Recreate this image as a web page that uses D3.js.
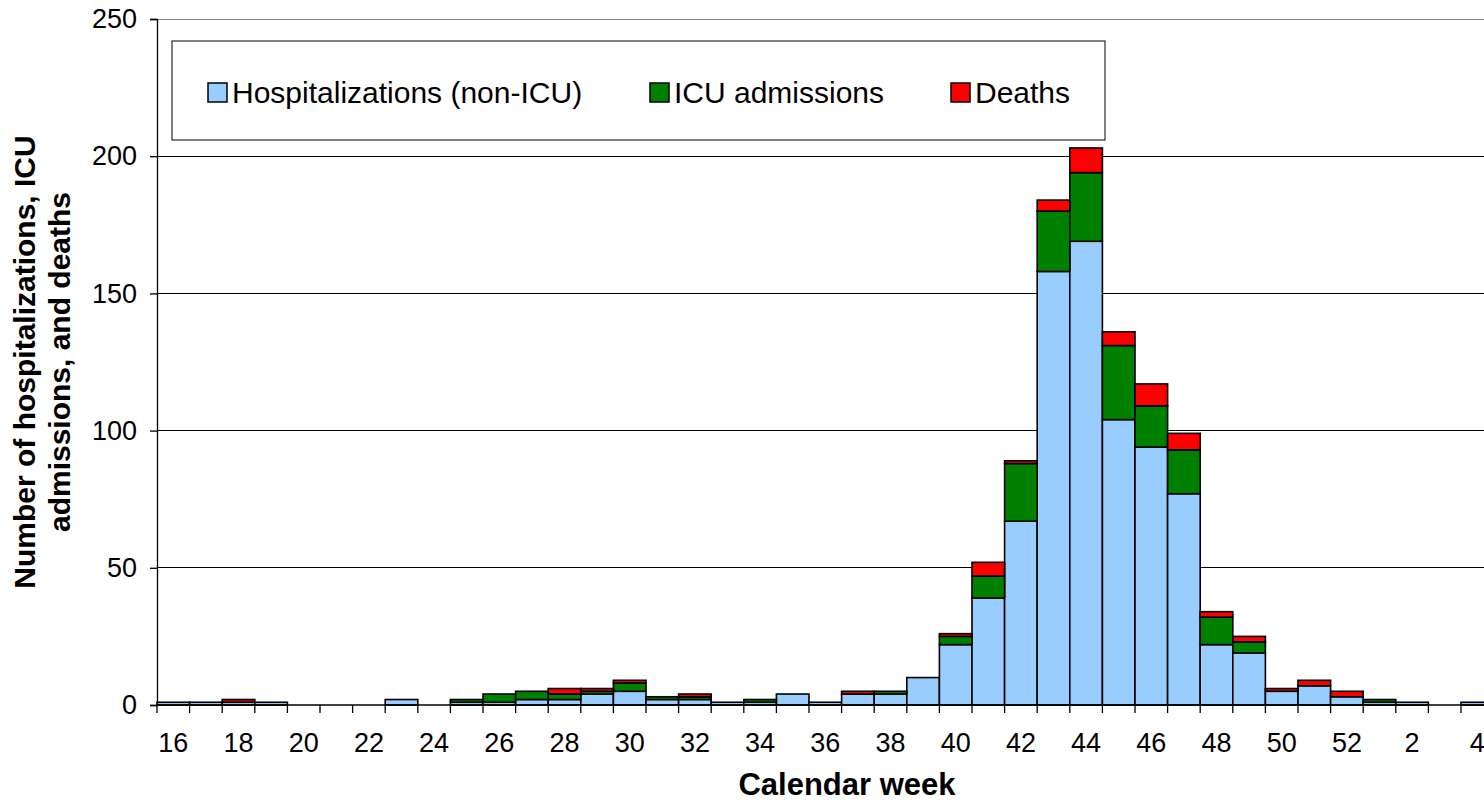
<!DOCTYPE html>
<html>
<head>
<meta charset="utf-8">
<script src="https://cdn.jsdelivr.net/npm/d3@7"></script>
<style>
  html, body { margin: 0; padding: 0; background: #fff; }
  svg { display: block; font-family: "Liberation Sans", Arial, sans-serif; }
</style>
</head>
<body>
<svg id="chart" width="1484" height="802"></svg>
<script>
// Calendar weeks (2009 -> 2010)
const weeks = [16,17,18,19,20,21,22,23,24,25,26,27,28,29,30,31,32,33,34,35,36,37,38,39,40,41,42,43,44,45,46,47,48,49,50,51,52,1,2,3,4];
const hospitalizations = [1,1,1,1,0,0,0,2,0,1,1,2,2,4,5,2,2,1,1,4,1,4,4,10,22,39,67,158,169,104,94,77,22,19,5,7,3,1,1,0,1];
const icuAdmissions    = [0,0,0,0,0,0,0,0,0,1,3,3,2,1,3,1,1,0,1,0,0,0,1,0,3,8,21,22,25,27,15,16,10,4,0,0,0,1,0,0,0];
const deaths           = [0,0,1,0,0,0,0,0,0,0,0,0,2,1,1,0,1,0,0,0,0,1,0,0,1,5,1,4,9,5,8,6,2,2,1,2,2,0,0,0,0];
const yTicks = [0,50,100,150,200,250];
const seriesNames = ["Hospitalizations (non-ICU)", "ICU admissions", "Deaths"];
const seriesKeys = ["hosp", "icu", "death"];
const seriesColors = ["#99CCFF", "#008000", "#FF0000"];

(function () {
const rows = weeks.map((w, i) => ({week: String(w), hosp: hospitalizations[i], icu: icuAdmissions[i], death: deaths[i]}));

const svg = d3.select("#chart");
const plotLeft = 157, plotBottom = 705, plotTop = 19;
const bandW = 32.6;
const plotRight = plotLeft + weeks.length * bandW;

const x = d3.scaleBand().domain(rows.map(d => d.week)).range([plotLeft, plotRight]).padding(0);
const y = d3.scaleLinear().domain([0, 250]).range([plotBottom, plotTop]);

// gridlines
svg.append("g").selectAll("line").data(yTicks.filter(t => t > 0)).join("line")
  .attr("x1", plotLeft).attr("x2", 1484)
  .attr("y1", d => y(d)).attr("y2", d => y(d))
  .attr("stroke", d => d === 250 ? "#808080" : "#000").attr("stroke-width", 1)
  .attr("shape-rendering", "crispEdges");

// stacked bars
const stack = d3.stack().keys(seriesKeys)(rows);
svg.append("g").selectAll("g").data(stack).join("g")
  .attr("fill", (d, i) => seriesColors[i])
  .selectAll("rect").data(d => d.filter(s => s[1] - s[0] > 0)).join("rect")
  .attr("x", d => x(d.data.week))
  .attr("width", x.bandwidth())
  .attr("y", d => y(d[1]))
  .attr("height", d => y(d[0]) - y(d[1]))
  .attr("stroke", "#000").attr("stroke-width", 1.6);

// y axis
const yAxis = d3.axisLeft(y).tickValues(yTicks).tickSize(7).tickPadding(13);
const ya = svg.append("g").attr("transform", `translate(${plotLeft},0)`).call(yAxis);
ya.select(".domain").attr("stroke", "#000").attr("stroke-width", 1.3);
ya.selectAll(".tick line").attr("stroke", "#000").attr("stroke-width", 1.3);
ya.selectAll(".tick text").attr("font-size", 27).attr("fill", "#000")
  .attr("font-family", "Liberation Sans, Arial, sans-serif");

// x axis
const xAxis = d3.axisBottom(x).tickSize(0).tickPadding(0)
  .tickFormat((d, i) => i % 2 === 0 ? d : "");
const xa = svg.append("g").attr("transform", `translate(0,${plotBottom})`).call(xAxis);
xa.select(".domain").remove();
xa.append("line").attr("x1", plotLeft).attr("x2", 1484).attr("y1", 0).attr("y2", 0)
  .attr("stroke", "#000").attr("stroke-width", 1.6);
xa.selectAll(".xtick").data(rows.map(d => d.week)).join("line").attr("class", "xtick")
  .attr("x1", d => x(d)).attr("x2", d => x(d)).attr("y1", 0).attr("y2", 8)
  .attr("stroke", "#000").attr("stroke-width", 1.3);
xa.selectAll(".tick text").attr("font-size", 27).attr("fill", "#000")
  .attr("dy", null).attr("y", 47)
  .attr("font-family", "Liberation Sans, Arial, sans-serif");

// axis titles
svg.append("text").attr("x", 847).attr("y", 795).attr("text-anchor", "middle")
  .attr("font-size", 31).attr("font-weight", "bold").text("Calendar week");
const yt = svg.append("text").attr("transform", "translate(35,362) rotate(-90)")
  .attr("text-anchor", "middle").attr("font-size", 30).attr("font-weight", "bold");
yt.append("tspan").attr("x", 0).attr("y", 0).text("Number of hospitalizations, ICU");
yt.append("tspan").attr("x", 0).attr("y", 35).text("admissions, and deaths");

// legend
const lg = svg.append("g");
lg.append("rect").attr("x", 172).attr("y", 41).attr("width", 933).attr("height", 99)
  .attr("fill", "#fff").attr("stroke", "#000").attr("stroke-width", 1);
const legendX = [208, 650, 951];
seriesNames.forEach((name, i) => {
  lg.append("rect").attr("x", legendX[i]).attr("y", 83).attr("width", 19).attr("height", 19)
    .attr("fill", seriesColors[i]).attr("stroke", "#000").attr("stroke-width", 1.5);
  lg.append("text").attr("x", legendX[i] + 24).attr("y", 103).attr("font-size", 30)
    .text(name);
});
})();
</script>
</body>
</html>
